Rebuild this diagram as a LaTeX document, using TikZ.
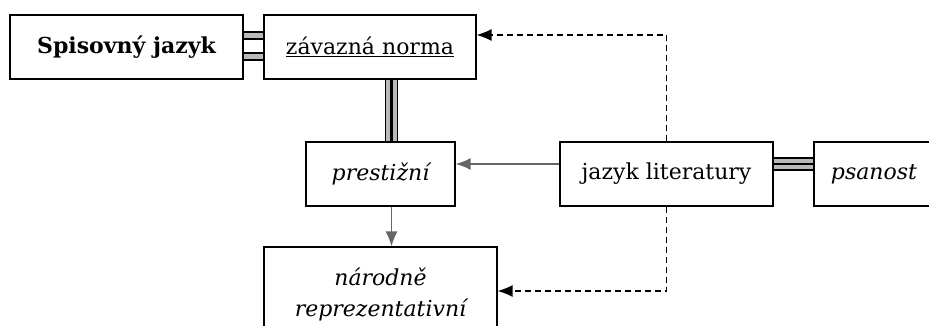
\documentclass[tikz,border=0pt]{standalone}
\usepackage{fontspec}
\setmainfont{DejaVu Serif}
\usetikzlibrary{arrows.meta}

\tikzset{
	box/.style={draw, line width=1.2pt, fill=white, minimum height=64pt, inner sep=0pt,
		font=\fontsize{22}{31}\selectfont},
	link/.style={draw=black!60, line width=1.6pt, -{Latex[length=15pt,width=12pt]}},
	dlink/.style={dash pattern=on 6pt off 4pt, line width=1.3pt, -{Latex[length=15pt,width=12pt]}},
	twin/.style={draw=gray!55, line width=5pt, preaction={draw=black, line width=9pt}},
	triple/.style={line width=2.8pt, preaction={draw=black, line width=13pt},
		preaction={draw=gray!55, line width=10.6pt}},
}

\begin{document}
\begin{tikzpicture}[x=1pt, y=-1pt]
	\useasboundingbox (0,0) rectangle (929,326);
	\clip (0,0) rectangle (929,326);
	
	% Boxes
	\node[box, minimum width=233pt, font=\fontsize{22}{31}\selectfont\bfseries] (spis) at (126.5,47) {Spisovný jazyk};
	\node[box, minimum width=212pt] (norma) at (370,47) {\underline{závazná norma}};
	\node[box, minimum width=149pt] (prest) at (380.5,174) {\itshape prestižní};
	\node[box, minimum width=233pt, minimum height=94pt, align=center] (narod) at (380.5,294)
		{\itshape národně\\ \itshape reprezentativní};
	\node[box, minimum width=213pt] (lit) at (666.5,174) {jazyk literatury};
	\node[box, minimum width=120pt] (psan) at (874,174) {\itshape psanost};
	
	% Bonds
	\draw[twin] ([yshift=11pt]spis.east) -- ([yshift=11pt]norma.west);
	\draw[twin] ([yshift=-10pt]spis.east) -- ([yshift=-10pt]norma.west);
	\draw[triple] ([xshift=11pt]prest.north) -- ([xshift=11pt]prest.north |- norma.south);
	\draw[triple] ([yshift=10pt]lit.east) -- ([yshift=10pt]psan.west);
	
	% Arrows
	\draw[link] ([yshift=10pt]lit.west) -- ([yshift=10pt]prest.east);
	\draw[link] ([xshift=11pt]prest.south) -- ([xshift=11pt]prest.south |- narod.north);
	\draw[dlink] (lit.north) |- ([yshift=12pt]norma.east);
	\draw[dlink] (lit.south) |- ([yshift=3pt]narod.east);
\end{tikzpicture}
\end{document}
